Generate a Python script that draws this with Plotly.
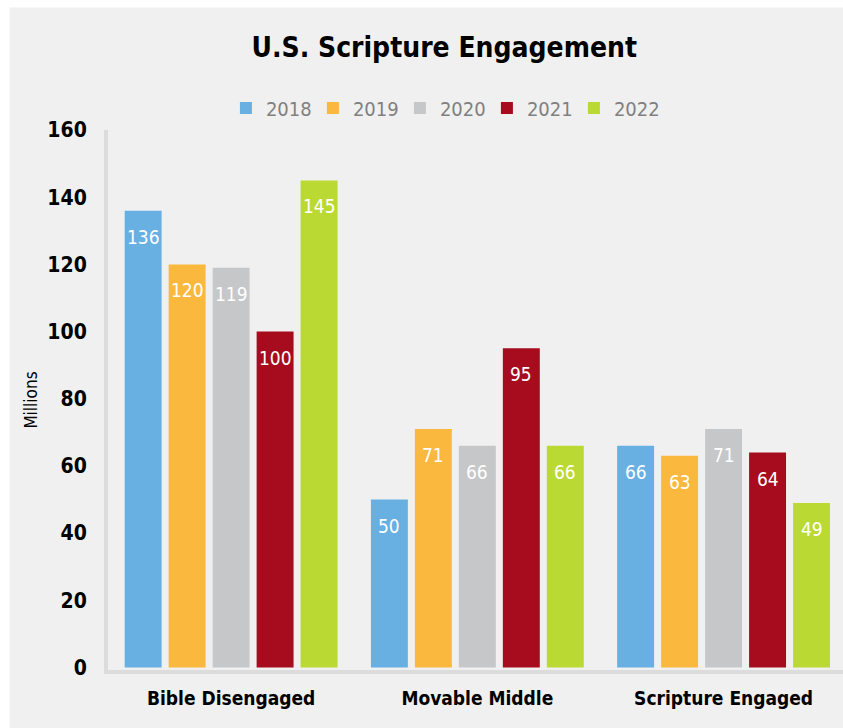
import plotly.graph_objects as go

# Scripture engagement segments, in millions of U.S. adults
categories = ["Bible Disengaged", "Movable Middle", "Scripture Engaged"]
years = ["2018", "2019", "2020", "2021", "2022"]
values_2018 = [136, 50, 66]
values_2019 = [120, 71, 63]
values_2020 = [119, 66, 71]
values_2021 = [100, 95, 64]
values_2022 = [145, 66, 49]
series = [values_2018, values_2019, values_2020, values_2021, values_2022]
colors = ["#68b0e1", "#fbb83f", "#c6c7c9", "#a60c1e", "#bad933"]
y_ticks = [0, 20, 40, 60, 80, 100, 120, 140, 160]

FONT = "Liberation Sans Narrow, Arial Narrow, DejaVu Sans Condensed, sans-serif"
BARGAP = 0.107
BARGROUPGAP = 0.16
n_series = len(series)
slot = (1 - BARGAP) / n_series

fig = go.Figure()
for name, vals, col in zip(years, series, colors):
    fig.add_trace(go.Bar(
        x=categories, y=vals, name=name,
        marker=dict(color=col, line=dict(width=0)),
        hoverinfo="x+y+name",
    ))

# value labels placed just inside the top of each bar
annotations = []
for j, vals in enumerate(series):
    for i, v in enumerate(vals):
        annotations.append(dict(
            x=i + (j - (n_series - 1) / 2) * slot, y=v, xref="x", yref="y",
            text=str(v), showarrow=False, yshift=-26, yanchor="middle",
            font=dict(family=FONT, size=19, color="white"),
        ))

fig.update_layout(
    width=843, height=728,
    margin=dict(l=108, r=0, t=130, b=57.5, autoexpand=False),
    paper_bgcolor="white",
    plot_bgcolor="rgba(0,0,0,0)",
    barmode="group", bargap=BARGAP, bargroupgap=BARGROUPGAP,
    title=dict(
        text="<b>U.S. Scripture Engagement</b>",
        font=dict(family=FONT, size=28, color="black"),
        x=0.527, xref="container", xanchor="center",
        y=0.9354, yref="container", yanchor="middle",
    ),
    legend=dict(
        orientation="h", xref="container", yref="container",
        x=0.526, xanchor="center", y=0.8516, yanchor="middle",
        font=dict(family=FONT, size=20, color="#808080"),
        bgcolor="rgba(0,0,0,0)", itemclick=False, entrywidth=42,
    ),
    xaxis=dict(
        range=[-0.5, 2.485], showgrid=False, zeroline=False,
        showline=True, linecolor="#dcdcdc", linewidth=4,
        ticks="", ticklabelstandoff=8,
        tickfont=dict(family=FONT, size=19, color="black", weight="bold"),
    ),
    yaxis=dict(
        range=[-0.74, 160], tickvals=y_ticks, showgrid=False, zeroline=False,
        showline=True, linecolor="#dcdcdc", linewidth=4,
        ticks="", ticklabelstandoff=13,
        tickfont=dict(family=FONT, size=21, color="black", weight="bold"),
        title=dict(text="Millions", standoff=6,
                   font=dict(family=FONT, size=17, color="black")),
    ),
    annotations=annotations,
    shapes=[dict(
        type="rect", xref="paper", yref="paper", layer="below",
        x0=-0.134, x1=1.2, y0=-0.3, y1=1.227,
        fillcolor="#f0f0f0", line=dict(width=0),
    )],
)

fig.write_html("out.html")
